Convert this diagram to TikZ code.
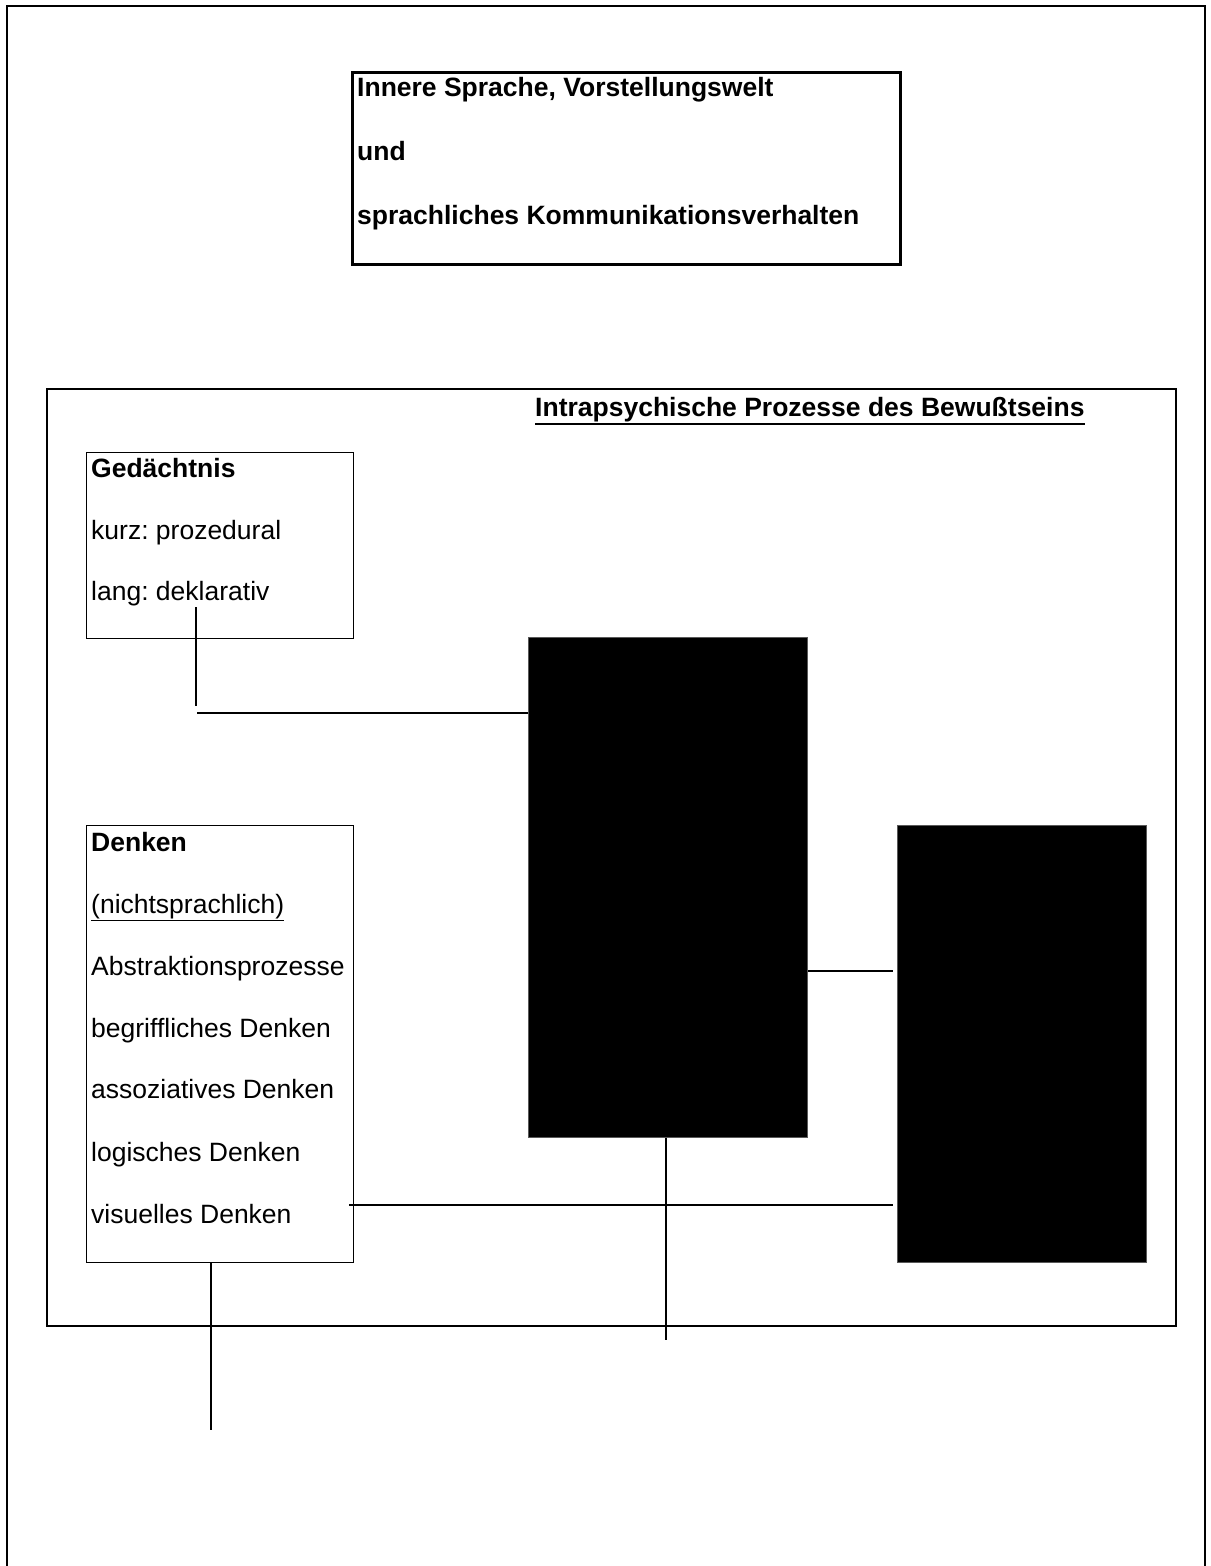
\documentclass[tikz,border=0pt]{standalone}
\usepackage{fontspec}
\setmainfont{Liberation Sans}
\frenchspacing
\begin{document}
\frenchspacing
\begin{tikzpicture}[x=1pt,y=-1pt,
  txt/.style={anchor=base west, inner sep=0pt, font=\fontsize{26.5}{30}\selectfont},
  btxt/.style={txt, font=\fontsize{26.5}{30}\selectfont\bfseries},
  wbox/.style={draw, line width=1pt, anchor=north west, inner sep=0pt},
  bbox/.style={fill=black, draw=black!65, line width=1pt, anchor=north west, inner sep=0pt},
  conn/.style={line width=1.6pt}]
\useasboundingbox (0,0) rectangle (1210,1566);
% outer frame (open at bottom)
\draw[line width=2.2pt] (7,1570) -- (7,6) -- (1205,6) -- (1205,1570);
% title box
\node[wbox, line width=3pt, minimum width=548pt, minimum height=192pt] (title) at (351,71) {};
\node[btxt] (t1) at (357,96) {Innere Sprache, Vorstellungswelt};
\node[btxt] (t2) at (357,160) {und};
\node[btxt] (t3) at (357,224) {sprachliches Kommunikationsverhalten};
% inner frame
\node[wbox, line width=1.6pt, minimum width=1129pt, minimum height=937pt] (frame) at (46,388) {};
\node[btxt] (head) at (535,416) {Intrapsychische Prozesse des Bewußtseins};
\draw[line width=2pt] (head.base west) ++(0,8) coordinate (ulA) -- (ulA -| head.base east);
% Gedaechtnis
\node[wbox, minimum width=267pt, minimum height=186pt] (ged) at (86,452) {};
\node[btxt] (g1) at (91,477) {Gedächtnis};
\node[txt] (g2) at (91,539) {kurz: prozedural};
\node[txt] (g3) at (91,600) {lang: deklarativ};
% Denken
\node[wbox, minimum width=267pt, minimum height=437pt] (denk) at (86,825) {};
\node[btxt] (d1) at (91,851) {Denken};
\node[txt] (d2) at (91,913) {\underline{(nichtsprachlich)}};
\node[txt] (d3) at (91,975) {Abstraktionsprozesse};
\node[txt] (d4) at (91,1037) {begriffliches Denken};
\node[txt] (d5) at (91,1098) {assoziatives Denken};
\node[txt] (d6) at (91,1161) {logisches Denken};
\node[txt] (d7) at (91,1223) {visuelles Denken};
% black boxes
\node[bbox, minimum width=279pt, minimum height=500pt] (blk1) at (528,637) {};
\node[bbox, minimum width=249pt, minimum height=437pt] (blk2) at (897,825) {};
% connectors
\coordinate (gA) at (196,607);
\coordinate (gB) at (196,706);
\coordinate (gC) at (197,713);
\draw[conn] (gA) -- (gB);
\draw[conn] (gC) -- (blk1.west |- gC);
\coordinate (b2in) at (893,971);
\draw[conn] (blk1.east |- b2in) -- (b2in);
\coordinate (vS) at (349,1205);
\coordinate (vE) at (893,1205);
\draw[conn] (vS) -- (vE);
\coordinate (b1end) at (666,1340);
\draw[conn] (blk1.south -| b1end) -- (b1end);
\coordinate (dend) at (211,1430);
\draw[conn] (denk.south -| dend) -- (dend);
\end{tikzpicture}
\end{document}
